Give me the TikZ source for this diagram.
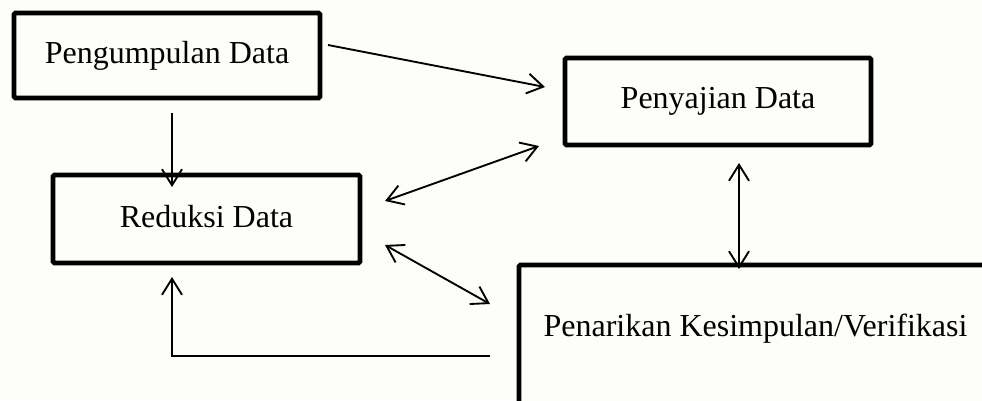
\documentclass[tikz,border=0pt]{standalone}
\usepackage{fontspec}
\setmainfont{Liberation Serif}
\usetikzlibrary{arrows.meta,calc}
\definecolor{paper}{RGB}{253,253,249}
\tikzset{
  box/.style={draw=black, line width=3.5pt, rounded corners=1pt, fill=paper,
    inner sep=0pt, outer sep=0pt, font=\fontsize{24}{28}\selectfont},
  link/.style={line width=1.4pt, -{Straight Barb[length=12pt,width=15pt,line width=1.4pt]}},
  both/.style={line width=1.4pt, {Straight Barb[length=12pt,width=15pt,line width=1.4pt]}-{Straight Barb[length=12pt,width=15pt,line width=1.4pt]}},
  label/.style={inner sep=0pt, font=\fontsize{24}{28}\selectfont}
}
\begin{document}
\begin{tikzpicture}[x=0.75pt, y=-0.75pt]
  \useasboundingbox (0,0) rectangle (982,400);
  \clip (0,0) rectangle (982,400);
  \fill[paper] (0,0) rectangle (982,400);

  % process boxes
  \node[box, minimum width=229.5pt, minimum height=63.75pt] (pg) at (167,55.5) {\raisebox{2pt}{Pengumpulan Data}};
  \node[box, minimum width=230.25pt, minimum height=66pt] (rd) at (206.5,219) {\raisebox{4pt}{Reduksi Data}};
  \node[box, minimum width=229.5pt, minimum height=65.25pt] (pj) at (718,101.5) {\raisebox{2pt}{Penyajian Data}};
  \node[box, minimum width=360.75pt, minimum height=116.25pt] (pk) at (759.5,342.5) {};
  \node[label] (pkt) at (755.5,329) {Penarikan Kesimpulan/Verifikasi};

  % connectors
  \draw[link] ($(pg.east)+(8,-10.5)$) -- ($(pj.west)+(-20,-14.5)$);
  \draw[link] ($(pg.south)+(5,15)$) -- ($(pg.south)+(5,89)$);
  \draw[both] ($(rd.east)+(25,-18)$) -- ($(pj.west)+(-26,44.5)$);
  \draw[both] ($(rd.east)+(25,26)$) -- ($(pk.west)+(-29,-38.5)$);
  \draw[both] ($(pj.south)+(21,18)$) -- ($(pj.south)+(21,124)$);
  \draw[link] ($(pk.west)+(-29,13.5)$) -| ($(rd.south)+(-34.5,14)$);
\end{tikzpicture}
\end{document}
